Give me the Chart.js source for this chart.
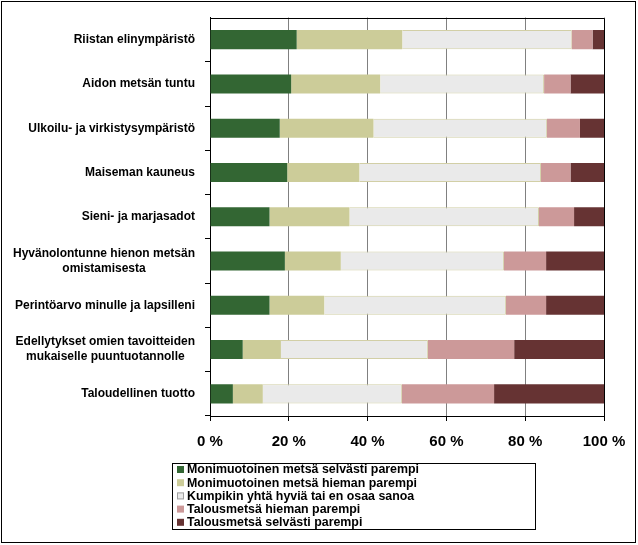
<!DOCTYPE html>
<html>
<head>
<meta charset="utf-8">
<script src="https://cdn.jsdelivr.net/npm/chart.js@4/dist/chart.umd.min.js"></script>
<style>
  html, body { margin: 0; padding: 0; background: #fff; }
  canvas { display: block; }
</style>
</head>
<body>
<canvas id="c" width="638" height="545"></canvas>
<script>
const categories = [
  'Riistan elinympäristö',
  'Aidon metsän tuntu',
  'Ulkoilu- ja virkistysympäristö',
  'Maiseman kauneus',
  'Sieni- ja marjasadot',
  ['Hyvänolontunne hienon metsän', 'omistamisesta'],
  'Perintöarvo minulle ja lapsilleni',
  ['Edellytykset omien tavoitteiden', 'mukaiselle puuntuotannolle'],
  'Taloudellinen tuotto'
];
const seriesNames = [
  'Monimuotoinen metsä selvästi parempi',
  'Monimuotoinen metsä hieman parempi',
  'Kumpikin yhtä hyviä tai en osaa sanoa',
  'Talousmetsä hieman parempi',
  'Talousmetsä selvästi parempi'
];
const monimuotoinenSelvasti = [22.0, 20.6, 17.7, 19.6, 15.1, 19.0, 15.1, 8.3, 5.8];
const monimuotoinenHieman   = [26.8, 22.6, 23.8, 18.3, 20.3, 14.2, 13.9, 9.7, 7.6];
const kumpikin              = [43.0, 41.6, 44.0, 46.1, 48.1, 41.4, 46.1, 37.3, 35.3];
const talousHieman          = [5.3, 6.7, 8.4, 7.5, 8.9, 10.7, 10.2, 21.9, 23.4];
const talousSelvasti        = [2.9, 8.5, 6.1, 8.5, 7.6, 14.7, 14.7, 22.8, 27.9];
const xTickLabels = ['0 %', '20 %', '40 %', '60 %', '80 %', '100 %'];

const colors = ['#336633', '#CCCC99', '#EAEAEA', '#CC9999', '#663333'];
const borderColors = ['#336633', '#CCCC99', '#D2CFA6', '#CC9999', '#663333'];
const seriesValues = [monimuotoinenSelvasti, monimuotoinenHieman, kumpikin, talousHieman, talousSelvasti];

const FONT = 'Liberation Sans, Arial, sans-serif';

const frameAndLegend = {
  id: 'frameAndLegend',
  beforeDraw(chart) {
    // center multi-line category labels within their right-aligned block
    const sc = chart.scales.y;
    const items = sc.getLabelItems();
    const ctx = chart.ctx;
    items.forEach(it => {
      if (Array.isArray(it.label) && it.label.length > 1 && !it._adj) {
        ctx.save();
        ctx.font = it.font.string;
        const w = Math.max(...it.label.map(s => ctx.measureText(s).width));
        ctx.restore();
        it.options.translation = [it.options.translation[0] - w / 2, it.options.translation[1]];
        it.options.textAlign = 'center';
        it._adj = true;
      }
    });
  },
  afterDraw(chart) {
    const ctx = chart.ctx;
    const a = chart.chartArea;
    ctx.save();
    ctx.strokeStyle = '#000';
    ctx.lineWidth = 1;
    // plot area top and right edges
    ctx.beginPath();
    ctx.moveTo(Math.round(a.left) + 0.5, Math.round(a.top) + 0.5);
    ctx.lineTo(Math.round(a.right) + 0.5, Math.round(a.top) + 0.5);
    ctx.lineTo(Math.round(a.right) + 0.5, Math.round(a.bottom) + 0.5);
    ctx.stroke();
    // outer frame
    ctx.strokeRect(1.5, 1.5, 634, 541);
    // legend box
    ctx.strokeRect(172.5, 463.5, 363, 66);
    ctx.font = 'bold 12.4px ' + FONT;
    ctx.textBaseline = 'middle';
    ctx.textAlign = 'left';
    chart.data.datasets.forEach((ds, i) => {
      const y = 469.5 + i * 13.2;
      ctx.fillStyle = ds.backgroundColor;
      ctx.fillRect(177, y - 3.5, 7, 7);
      if (i === 2) {
        ctx.strokeStyle = '#A0A0A0';
        ctx.strokeRect(177.5, y - 3, 6, 6);
      }
      ctx.fillStyle = '#000';
      ctx.fillText(ds.label, 187, y + 0.5);
    });
    ctx.restore();
  }
};

new Chart(document.getElementById('c'), {
  type: 'bar',
  data: {
    labels: categories,
    datasets: seriesNames.map((name, i) => ({
      label: name,
      data: seriesValues[i],
      backgroundColor: colors[i],
      borderColor: borderColors[i],
      borderWidth: i === 2 ? 1 : 0,
      categoryPercentage: 1,
      barPercentage: 0.43
    }))
  },
  options: {
    indexAxis: 'y',
    responsive: false,
    animation: false,
    layout: { padding: { top: 16, right: 34, bottom: 0, left: 0 } },
    plugins: {
      legend: { display: false },
      tooltip: { enabled: false }
    },
    scales: {
      x: {
        stacked: true,
        min: 0,
        max: 100,
        afterFit(scale) { scale.height = 129; },
        ticks: {
          stepSize: 20,
          color: '#000',
          padding: 12,
          font: { family: FONT, size: 15, weight: 'bold' },
          callback: (v, i) => xTickLabels[i]
        },
        grid: { color: '#808080', lineWidth: 1, drawTicks: true, tickLength: 5, tickColor: '#000' },
        border: { display: true, color: '#000', width: 1 }
      },
      y: {
        stacked: true,
        afterFit(scale) { scale.width = 210; },
        ticks: {
          color: '#000',
          padding: 10,
          font: { family: FONT, size: 12, weight: 'bold', lineHeight: 1.25 }
        },
        grid: {
          display: true, drawOnChartArea: false, drawTicks: true, tickLength: 5, offset: true,
          color: '#000',
          tickColor: (ctx) => (ctx.index === 0 ? 'rgba(0,0,0,0)' : '#000')
        },
        border: { display: true, color: '#000', width: 1 }
      }
    }
  },
  plugins: [frameAndLegend]
});
</script>
</body>
</html>
